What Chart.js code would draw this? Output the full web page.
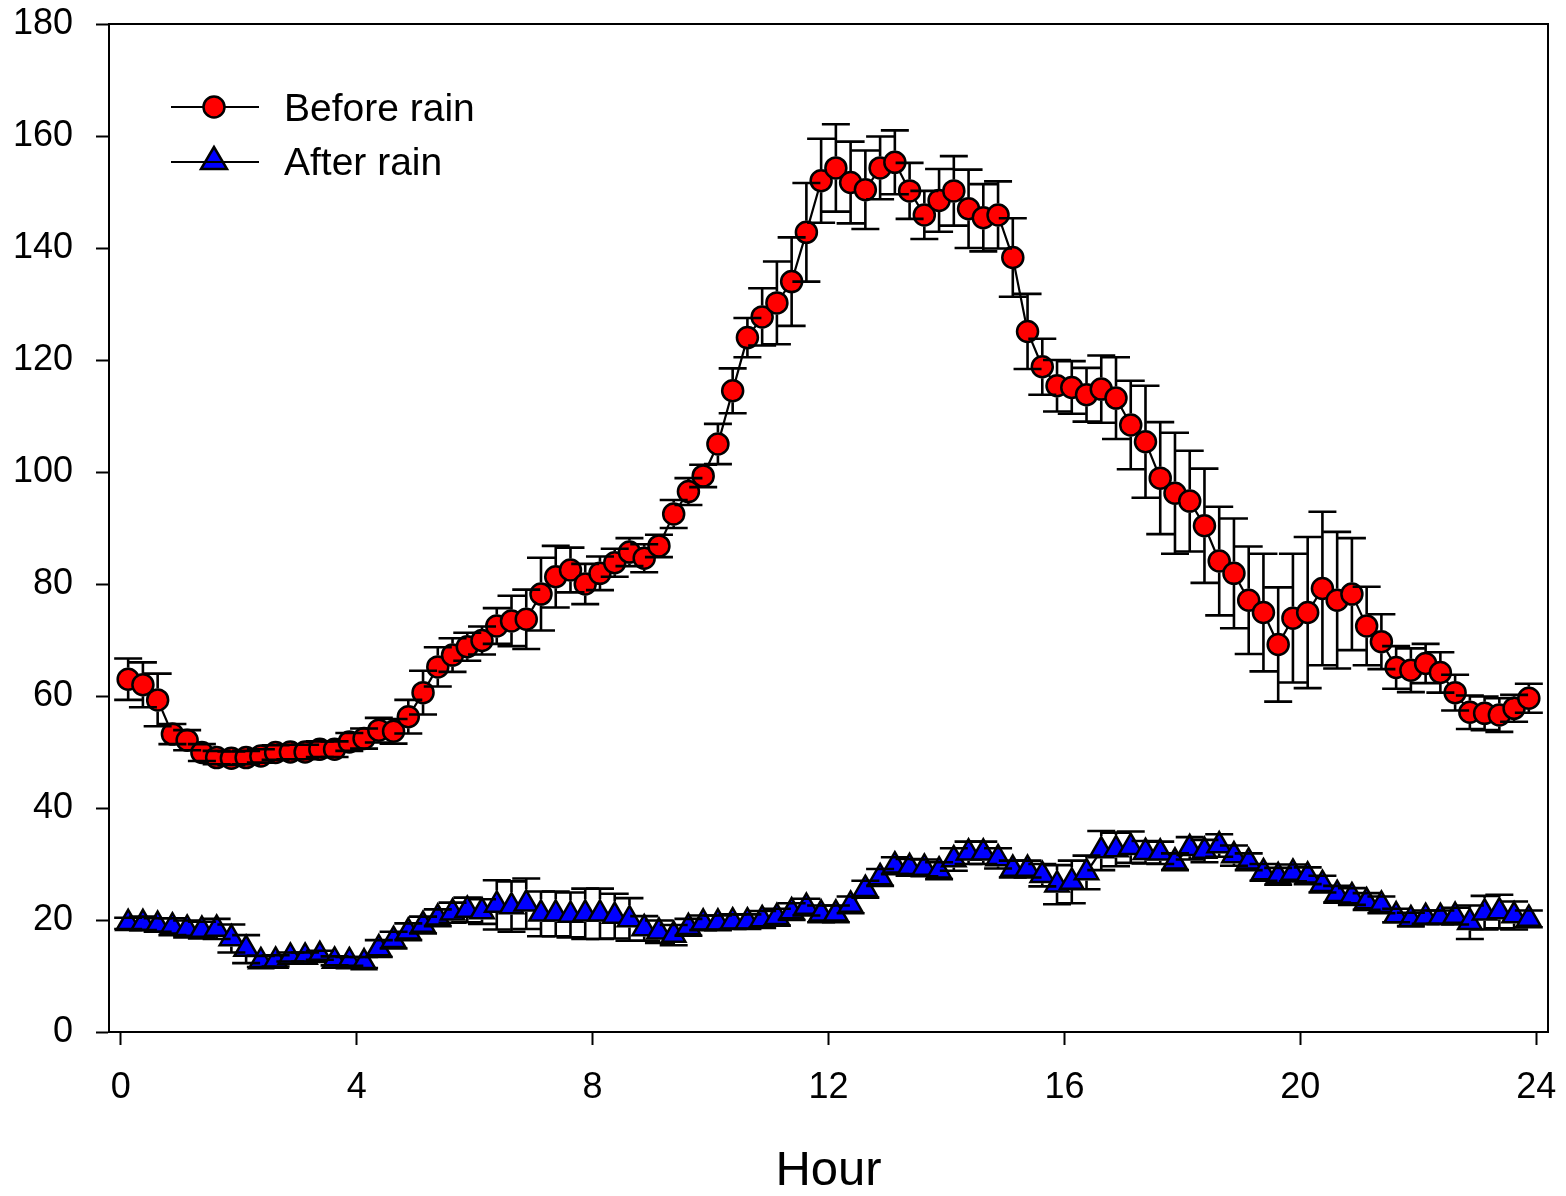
<!DOCTYPE html>
<html>
<head>
<meta charset="utf-8">
<script src="https://cdn.jsdelivr.net/npm/chart.js@4/dist/chart.umd.min.js"></script>
<style>
html,body{margin:0;padding:0;background:#fff;}
#wrap{position:relative;width:1566px;height:1196px;}
#legend{position:absolute;left:0;top:0;pointer-events:none;}
#legend text{font-family:"Liberation Sans",Arial,sans-serif;font-size:39px;fill:#000;}
</style>
</head>
<body>
<div id="wrap">
<canvas id="c" width="1566" height="1196"></canvas>
<svg id="legend" width="1566" height="1196" xmlns="http://www.w3.org/2000/svg">
  <line x1="171" y1="107" x2="259" y2="107" stroke="#000" stroke-width="2.2"/>
  <circle cx="214" cy="107" r="10.5" fill="#ff0000" stroke="#000" stroke-width="2.5"/>
  <text id="lab0" x="284" y="121"></text>
  <polygon points="214,147 201,169 227,169" fill="#0000ff" stroke="#000" stroke-width="2.5" stroke-linejoin="miter"/>
  <line x1="171" y1="162" x2="259" y2="162" stroke="#000" stroke-width="2.2"/>
  <text id="lab1" x="284" y="175"></text>
</svg>
</div>
<script>
// ---- data ----
const seriesLabels = ['Before rain', 'After rain'];
const xTitle = 'Hour';
const xTicks = [0, 4, 8, 12, 16, 20, 24];

const hours = [
  0.125, 0.375, 0.625, 0.875, 1.125, 1.375, 1.625, 1.875, 2.125, 2.375, 2.625, 2.875,
  3.125, 3.375, 3.625, 3.875, 4.125, 4.375, 4.625, 4.875, 5.125, 5.375, 5.625, 5.875,
  6.125, 6.375, 6.625, 6.875, 7.125, 7.375, 7.625, 7.875, 8.125, 8.375, 8.625, 8.875,
  9.125, 9.375, 9.625, 9.875, 10.125, 10.375, 10.625, 10.875, 11.125, 11.375, 11.625, 11.875,
  12.125, 12.375, 12.625, 12.875, 13.125, 13.375, 13.625, 13.875, 14.125, 14.375, 14.625, 14.875,
  15.125, 15.375, 15.625, 15.875, 16.125, 16.375, 16.625, 16.875, 17.125, 17.375, 17.625, 17.875,
  18.125, 18.375, 18.625, 18.875, 19.125, 19.375, 19.625, 19.875, 20.125, 20.375, 20.625, 20.875,
  21.125, 21.375, 21.625, 21.875, 22.125, 22.375, 22.625, 22.875, 23.125, 23.375, 23.625, 23.875
];

const beforeRain = [
  63.0, 62.0, 59.3, 53.2, 52.1, 49.9, 49.0, 48.9, 49.0, 49.3, 49.9, 50.0,
  50.0, 50.5, 50.5, 51.8, 52.4, 53.9, 53.7, 56.3, 60.6, 65.2, 67.3, 68.8,
  69.9, 72.5, 73.4, 73.7, 78.2, 81.3, 82.5, 80.0, 81.9, 83.8, 85.7, 84.6,
  86.8, 92.5, 96.5, 99.3, 105.0, 114.5, 124.0, 127.7, 130.2, 134.0, 142.8, 152.0,
  154.3, 151.7, 150.4, 154.3, 155.3, 150.2, 145.9, 148.5, 150.2, 147.0, 145.4, 145.9,
  138.3, 125.1, 118.8, 115.4, 115.1, 113.8, 114.8, 113.2, 108.4, 105.4, 98.9, 96.2,
  94.8, 90.4, 84.1, 81.9, 77.1, 74.9, 69.2, 73.9, 74.9, 79.2, 77.1, 78.2,
  72.5, 69.7, 65.1, 64.6, 65.8, 64.2, 60.6, 57.1, 56.9, 56.6, 57.8, 59.6
];
const beforeRainErr = [
  3.7, 4.0, 4.7, 1.8, 1.8, 1.5, 1.2, 1.2, 1.2, 1.2, 1.3, 1.3,
  1.3, 1.4, 1.4, 1.6, 1.8, 2.2, 2.2, 3.0, 3.9, 3.5, 3.0, 2.5,
  2.5, 3.2, 4.5, 5.3, 6.5, 5.5, 4.0, 3.6, 3.0, 2.5, 2.5, 2.5,
  2.0, 2.5, 2.4, 2.0, 3.6, 4.0, 3.5, 5.1, 7.4, 7.9, 8.8, 7.5,
  7.8, 7.3, 7.0, 5.6, 5.7, 5.0, 4.3, 5.6, 6.2, 7.0, 6.0, 6.0,
  7.0, 6.7, 5.0, 4.6, 4.7, 4.8, 6.0, 7.3, 7.9, 10.0, 10.0, 10.8,
  9.0, 10.2, 9.7, 9.8, 9.6, 10.5, 10.2, 11.5, 13.5, 13.7, 12.2, 10.0,
  7.0, 4.9, 3.8, 3.9, 3.5, 3.6, 3.2, 3.0, 3.0, 3.0, 2.4, 2.6
];

const afterRain = [
  19.4, 19.4, 19.1, 18.8, 18.4, 18.2, 18.4, 16.7, 14.8, 12.6, 12.7, 13.4,
  13.4, 13.7, 12.7, 12.6, 12.4, 14.9, 16.4, 17.9, 19.1, 20.4, 21.3, 21.8,
  21.5, 22.7, 22.4, 22.9, 21.1, 21.1, 20.9, 21.1, 21.1, 20.7, 20.1, 18.5,
  17.9, 17.3, 18.7, 19.5, 19.5, 19.7, 19.7, 20.1, 20.5, 21.5, 22.3, 21.1,
  21.1, 22.7, 25.5, 27.6, 29.7, 29.4, 29.3, 28.8, 30.8, 32.0, 32.0, 31.0,
  29.1, 29.1, 28.0, 26.3, 26.8, 28.5, 32.4, 32.6, 33.0, 32.1, 32.0, 30.4,
  32.8, 32.3, 33.3, 31.5, 30.4, 28.5, 27.8, 28.4, 27.9, 26.4, 24.6, 24.2,
  23.3, 22.7, 20.8, 20.1, 20.5, 20.5, 20.7, 19.6, 21.3, 21.5, 20.8, 20.2
];
const afterRainErr = [
  1.0, 1.2, 1.2, 1.5, 1.5, 1.5, 1.8, 2.5, 2.5, 1.0, 1.0, 0.8,
  0.8, 0.8, 0.8, 0.8, 1.0, 1.5, 1.5, 1.5, 1.5, 1.5, 1.8, 2.2,
  2.2, 4.4, 4.5, 4.5, 4.0, 4.0, 4.0, 4.5, 4.5, 4.0, 3.8, 2.2,
  2.0, 1.8, 1.5, 1.3, 1.3, 1.3, 1.3, 1.5, 1.5, 1.5, 1.5, 1.5,
  1.5, 1.5, 1.5, 1.5, 1.5, 1.5, 1.5, 1.5, 2.0, 2.0, 2.0, 1.8,
  1.5, 1.5, 2.0, 3.5, 3.8, 3.0, 3.5, 3.0, 2.8, 2.0, 2.0, 1.5,
  2.0, 2.0, 2.0, 1.8, 1.5, 1.5, 1.5, 1.5, 1.5, 1.5, 1.5, 1.5,
  1.5, 1.5, 1.2, 1.2, 1.2, 1.2, 1.5, 3.0, 3.0, 3.0, 2.5, 1.5
];

// ---- legend text ----
document.getElementById('lab0').textContent = seriesLabels[0];
document.getElementById('lab1').textContent = seriesLabels[1];

const FONT = '"Liberation Sans", Arial, sans-serif';

const toPoints = (xs, ys) => xs.map((x, i) => ({x: x, y: ys[i]}));

const errorBars = {
  id: 'errorBars',
  afterDatasetsDraw(chart) {
    const ctx = chart.ctx;
    const ys = chart.scales.y;
    chart.data.datasets.forEach((ds, di) => {
      const meta = chart.getDatasetMeta(di);
      ctx.save();
      ctx.strokeStyle = '#000';
      ctx.lineWidth = 2.6;
      ctx.lineCap = 'butt';
      meta.data.forEach((pt, i) => {
        const v = ds.data[i].y, e = ds.errors[i];
        const x = pt.x, y = pt.y;
        const yt = ys.getPixelForValue(v + e);
        const yb = ys.getPixelForValue(v - e);
        const upEdge = y - ds.edgeUp, downEdge = y + ds.edgeDown;
        ctx.beginPath();
        if (yt < upEdge) { ctx.moveTo(x, upEdge); ctx.lineTo(x, yt); }
        if (yb > downEdge) { ctx.moveTo(x, downEdge); ctx.lineTo(x, yb); }
        ctx.moveTo(x - 14, yt); ctx.lineTo(x + 14, yt);
        ctx.moveTo(x - 14, yb); ctx.lineTo(x + 14, yb);
        ctx.stroke();
      });
      ctx.restore();
    });
  }
};

const frame = {
  id: 'frame',
  afterDraw(chart) {
    const {ctx, chartArea: a} = chart;
    ctx.save();
    ctx.strokeStyle = '#000';
    ctx.lineWidth = 2;
    ctx.beginPath();
    ctx.moveTo(a.left, a.top);
    ctx.lineTo(a.right, a.top);
    ctx.lineTo(a.right, a.bottom);
    ctx.stroke();
    ctx.restore();
  }
};

const noOverhang = s => { s.paddingTop = 0; s.paddingBottom = 0; s.paddingLeft = 0; s.paddingRight = 0; };

const axisCommon = {
  grid: {drawOnChartArea: false, drawTicks: true, tickLength: 13, tickWidth: 2, tickColor: '#000'},
  border: {display: true, color: '#000', width: 2}
};

new Chart(document.getElementById('c'), {
  type: 'line',
  data: {
    datasets: [
      {
        label: seriesLabels[0],
        data: toPoints(hours, beforeRain),
        errors: beforeRainErr,
        edgeUp: 11.5, edgeDown: 11.5,
        borderColor: '#000', borderWidth: 2.2, tension: 0,
        pointStyle: 'circle', pointRadius: 10.5, pointBorderWidth: 2.5,
        pointBackgroundColor: '#ff0000', pointBorderColor: '#000',
        clip: false
      },
      {
        label: seriesLabels[1],
        data: toPoints(hours, afterRain),
        errors: afterRainErr,
        edgeUp: 14.5, edgeDown: 8,
        borderColor: '#000', borderWidth: 2.2, tension: 0,
        pointStyle: 'triangle', pointRadius: 13.5, pointBorderWidth: 2.5,
        pointBackgroundColor: '#0000ff', pointBorderColor: '#000',
        clip: false
      }
    ]
  },
  options: {
    responsive: false,
    animation: false,
    devicePixelRatio: 1,
    events: [],
    layout: {padding: {top: 24, right: 18, left: 0, bottom: 0}},
    plugins: {legend: {display: false}, tooltip: {enabled: false}},
    scales: {
      x: Object.assign({}, axisCommon, {
        type: 'linear', min: -0.2, max: 24.2,
        afterBuildTicks: s => { s.ticks = xTicks.map(v => ({value: v})); },
        afterFit: s => { s.height = 164; noOverhang(s); },
        ticks: {font: {family: FONT, size: 36}, color: '#000', padding: 21, maxRotation: 0, autoSkip: false},
        title: {display: true, text: xTitle, color: '#000',
                font: {family: FONT, size: 49, lineHeight: 1.0}, padding: {top: 0, bottom: 0}}
      }),
      y: Object.assign({}, axisCommon, {
        min: 0, max: 180,
        afterFit: s => { s.width = 109; noOverhang(s); },
        ticks: {stepSize: 20, font: {family: FONT, size: 36}, color: '#000', padding: 23}
      })
    }
  },
  plugins: [errorBars, frame]
});
</script>
</body>
</html>
